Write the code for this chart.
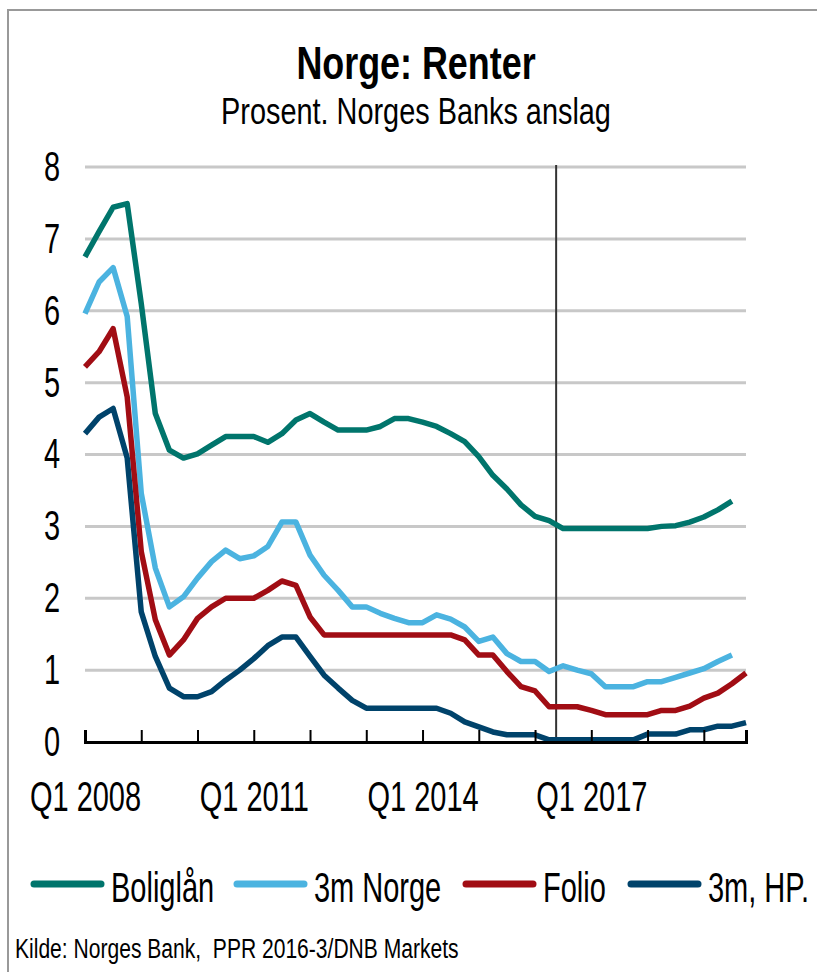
<!DOCTYPE html>
<html>
<head>
<meta charset="utf-8">
<script src="https://cdn.jsdelivr.net/npm/d3@7"></script>
<style>
  body { margin: 0; background: #fff; }
  text { font-family: 'Liberation Sans Narrow', 'Arial Narrow', 'Liberation Sans', sans-serif; }
</style>
</head>
<body>
<div id="chart"></div>
<script>
// kvartaler Q1 2008 - Q4 2019
const quarters = d3.range(48).map(i => 'Q' + (i % 4 + 1) + ' ' + (2008 + Math.floor(i / 4)))
const tickQuarters = ['Q1 2008', 'Q1 2009', 'Q1 2010', 'Q1 2011', 'Q1 2012', 'Q1 2013',
  'Q1 2014', 'Q1 2015', 'Q1 2016', 'Q1 2017', 'Q1 2018', 'Q1 2019']
const labelQuarters = ['Q1 2008', 'Q1 2011', 'Q1 2014', 'Q1 2017']
const yTicks = [0, 1, 2, 3, 4, 5, 6, 7, 8]
const forecastStart = 33.5 // skille mellom historikk og anslag

const names = ['Boliglån', '3m Norge', 'Folio', '3m, HP.']
const colors = ['#00756C', '#4BB3E0', '#A10D14', '#00436B']

const boliglan = [6.75, 7.10, 7.44, 7.49, 6.10, 4.57, 4.06, 3.95, 4.01, 4.13, 4.25, 4.25,
  4.25, 4.17, 4.29, 4.48, 4.57, 4.45, 4.34, 4.34, 4.34, 4.39, 4.50, 4.50,
  4.45, 4.39, 4.29, 4.18, 3.97, 3.71, 3.52, 3.30, 3.14, 3.08, 2.97, 2.97,
  2.97, 2.97, 2.97, 2.97, 2.97, 3.00, 3.01, 3.06, 3.13, 3.23, 3.35]
const norge3m = [5.96, 6.40, 6.60, 5.92, 3.46, 2.42, 1.88, 2.02, 2.28, 2.51, 2.67, 2.55,
  2.59, 2.72, 3.06, 3.06, 2.60, 2.32, 2.11, 1.88, 1.88, 1.79, 1.72, 1.66,
  1.66, 1.77, 1.71, 1.60, 1.40, 1.46, 1.23, 1.12, 1.12, 0.98, 1.06, 1.00,
  0.95, 0.77, 0.77, 0.77, 0.84, 0.84, 0.90, 0.96, 1.02, 1.12, 1.21]
const folio = [5.22, 5.43, 5.75, 4.80, 2.65, 1.70, 1.21, 1.42, 1.72, 1.88, 2.00, 2.00,
  2.00, 2.11, 2.24, 2.18, 1.74, 1.49, 1.49, 1.49, 1.49, 1.49, 1.49, 1.49,
  1.49, 1.49, 1.49, 1.42, 1.21, 1.21, 0.98, 0.77, 0.71, 0.49, 0.49, 0.49,
  0.44, 0.38, 0.38, 0.38, 0.38, 0.44, 0.44, 0.50, 0.61, 0.68, 0.81, 0.96]
const hp3m = [4.29, 4.52, 4.64, 3.95, 1.81, 1.19, 0.75, 0.63, 0.63, 0.70, 0.86, 1.00,
  1.16, 1.34, 1.46, 1.46, 1.19, 0.93, 0.75, 0.58, 0.47, 0.47, 0.47, 0.47,
  0.47, 0.47, 0.40, 0.28, 0.21, 0.14, 0.10, 0.10, 0.10, 0.03, 0.03, 0.03,
  0.03, 0.03, 0.03, 0.03, 0.11, 0.11, 0.11, 0.17, 0.17, 0.22, 0.22, 0.27]

const series = [boliglan, norge3m, folio, hp3m]

const width = 817
const height = 972
const margin = { top: 167, left: 85, right: 71, bottom: 230 }

const svg = d3
  .select('#chart')
  .append('svg')
  .attr('width', width)
  .attr('height', height)

// ramme
svg
  .append('path')
  .attr('d', 'M8,' + (height + 5) + 'V10H' + (width + 5))
  .attr('fill', 'none')
  .attr('stroke', '#999')
  .attr('stroke-width', 2)

const xScale = d3
  .scaleLinear()
  .domain([0, quarters.length - 1])
  .range([margin.left, width - margin.right])

const yScale = d3
  .scaleLinear()
  .domain([0, 8])
  .range([height - margin.bottom, margin.top])

// tittel
svg
  .append('text')
  .attr('class', 'wide')
  .text('Norge: Renter')
  .attr('x', 416)
  .attr('y', 79)
  .attr('text-anchor', 'middle')
  .attr('font-weight', 'bold')
  .style('font-size', '46px')

svg
  .append('text')
  .attr('class', 'wide')
  .text('Prosent. Norges Banks anslag')
  .attr('x', 416)
  .attr('y', 124)
  .attr('text-anchor', 'middle')
  .style('font-size', '37px')

// gridlinjer
svg
  .selectAll('.grid')
  .data(yTicks.filter(d => d > 0))
  .enter()
  .append('line')
  .attr('class', 'grid')
  .attr('x1', xScale.range()[0])
  .attr('x2', xScale.range()[1])
  .attr('y1', d => yScale(d))
  .attr('y2', d => yScale(d))
  .attr('stroke', '#C8C8C8')
  .attr('stroke-width', 3)

// y-akse
const yAxis = d3
  .axisLeft(yScale)
  .tickValues(yTicks)
  .tickSize(0)
  .tickPadding(25)
  .tickFormat(d3.format('d'))

svg
  .append('g')
  .attr('transform', 'translate(' + margin.left + ',0)')
  .call(yAxis)
  .call(g => g.select('.domain').remove())
  .selectAll('text')
  .attr('class', 'narrow')
  .attr('fill', '#000')
  .style('font-size', '42px')

// prognoselinje
svg
  .append('line')
  .attr('x1', xScale(forecastStart))
  .attr('x2', xScale(forecastStart))
  .attr('y1', yScale(8) - 2)
  .attr('y2', yScale(0))
  .attr('stroke', '#333')
  .attr('stroke-width', 2)

// linjer
const line = d3
  .line()
  .x((d, i) => xScale(i))
  .y(d => yScale(d))

svg
  .selectAll('.serie')
  .data(series)
  .enter()
  .append('path')
  .attr('class', 'serie')
  .attr('d', d => line(d))
  .attr('fill', 'none')
  .attr('stroke', (d, i) => colors[i])
  .attr('stroke-width', 5.5)
  .attr('stroke-linejoin', 'round')

// x-akse
const xAxis = d3
  .axisBottom(xScale)
  .tickValues(tickQuarters.map(q => quarters.indexOf(q)))
  .tickSize(-12)
  .tickPadding(39)
  .tickFormat(i => (labelQuarters.includes(quarters[i]) ? quarters[i] : ''))

svg
  .append('g')
  .attr('transform', 'translate(0,' + yScale(0) + ')')
  .call(xAxis)
  .call(g => g.select('.domain').attr('stroke', '#000').attr('stroke-width', 3))
  .call(g => g.selectAll('.tick line').attr('stroke', '#000').attr('stroke-width', 2))
  .selectAll('text')
  .attr('class', 'narrow')
  .attr('fill', '#000')
  .style('font-size', '42px')

// legend
const legend = svg
  .selectAll('.legend')
  .data(names)
  .enter()
  .append('g')
  .attr('class', 'legend')
  .attr('transform', (d, i) => 'translate(' + [31, 234, 463, 628][i] + ',884)')

legend
  .append('line')
  .attr('x1', 3)
  .attr('x2', 70)
  .attr('stroke', (d, i) => colors[i])
  .attr('stroke-width', 7)
  .attr('stroke-linecap', 'round')

legend
  .append('text')
  .attr('class', 'narrow')
  .text(d => d)
  .attr('x', 80)
  .attr('y', 18)
  .style('font-size', '42px')

// kilde
svg
  .append('text')
  .attr('class', 'wide')
  .text('Kilde: Norges Bank,  PPR 2016-3/DNB Markets')
  .attr('x', 15)
  .attr('y', 958)
  .style('font-size', '27px')
  .style('white-space', 'pre')

// smal skrift (Arial Narrow finnes ikke): trykk teksten sammen
function condense(sel, k) {
  sel.each(function() {
    const w = this.getComputedTextLength()
    if (w > 0) {
      this.setAttribute('textLength', w * k)
      this.setAttribute('lengthAdjust', 'spacingAndGlyphs')
    }
  })
}
condense(svg.selectAll('text.wide'), 0.78)
condense(svg.selectAll('text.narrow'), 0.69)
</script>
</body>
</html>
